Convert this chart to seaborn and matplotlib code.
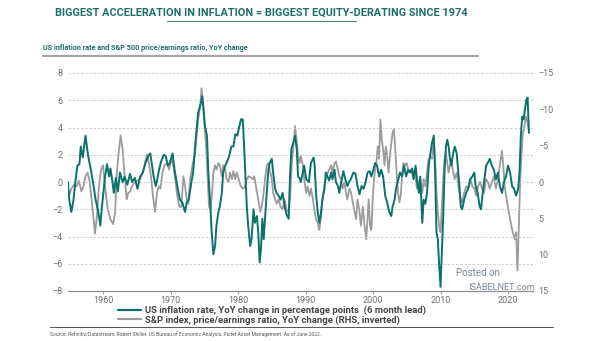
import matplotlib
matplotlib.use("Agg")
import matplotlib.pyplot as plt
import seaborn as sns
import pandas as pd
from matplotlib.lines import Line2D

# ---------------- data ----------------
infl_year = [1954.8, 1955.0, 1955.3, 1955.6, 1955.9, 1956.2, 1956.5, 1956.7, 1957.0, 1957.4, 1957.8, 1958.2,
             1958.6, 1958.9, 1959.3, 1959.6, 1959.8, 1960.05, 1960.3, 1960.6, 1960.9, 1961.1, 1961.4, 1961.6,
             1961.9, 1962.2, 1962.5, 1962.9, 1963.2, 1963.6, 1964.0, 1964.3, 1964.7, 1965.1, 1965.5, 1965.9,
             1966.3, 1966.7, 1967.0, 1967.2, 1967.5, 1967.8, 1968.0, 1968.3, 1968.6, 1969.0, 1969.3, 1969.6,
             1969.9, 1970.3, 1970.6, 1971.0, 1971.4, 1971.75, 1972.15, 1972.4, 1972.7, 1973.1, 1973.35, 1973.6,
             1973.9, 1974.1, 1974.5, 1974.7, 1974.9, 1975.1, 1975.4, 1975.6, 1975.9, 1976.1, 1976.35, 1976.6,
             1976.8, 1977.1, 1977.3, 1977.6, 1977.8, 1978.1, 1978.3, 1978.7, 1979.0, 1979.3, 1979.6, 1979.9,
             1980.2, 1980.45, 1980.7, 1980.9, 1981.1, 1981.3, 1981.5, 1981.8, 1982.0, 1982.3, 1982.5, 1982.8,
             1983.0, 1983.2, 1983.4, 1983.6, 1983.8, 1984.0, 1984.25, 1984.5, 1984.7, 1985.0, 1985.2, 1985.5,
             1985.7, 1986.0, 1986.3, 1986.6, 1986.9, 1987.2, 1987.5, 1987.7, 1987.9, 1988.2, 1988.45, 1988.7,
             1988.9, 1989.1, 1989.3, 1989.6, 1989.8, 1990.1, 1990.5, 1990.8, 1991.2, 1991.35, 1991.55, 1991.8,
             1992.05, 1992.3, 1992.5, 1992.8, 1993.0, 1993.25, 1993.5, 1993.8, 1994.0, 1994.3, 1994.5, 1994.8,
             1995.0, 1995.3, 1995.6, 1995.9, 1996.2, 1996.45, 1996.7, 1997.1, 1997.4, 1997.7, 1998.0, 1998.3,
             1998.6, 1998.9, 1999.2, 1999.5, 1999.75, 2000.05, 2000.3, 2000.6, 2000.9, 2001.2, 2001.5, 2001.8,
             2002.1, 2002.4, 2002.7, 2002.9, 2003.2, 2003.4, 2003.7, 2004.0, 2004.3, 2004.6, 2004.9, 2005.2,
             2005.5, 2005.8, 2006.0, 2006.3, 2006.55, 2006.8, 2007.0, 2007.3, 2007.5, 2007.75, 2008.0, 2008.25,
             2008.5, 2008.75, 2009.0, 2009.2, 2009.4, 2009.6, 2009.8, 2010.0, 2010.2, 2010.4, 2010.6, 2010.8,
             2011.0, 2011.2, 2011.4, 2011.6, 2011.8, 2012.1, 2012.4, 2012.6, 2012.8, 2013.0, 2013.2, 2013.5,
             2013.8, 2014.1, 2014.4, 2014.7, 2015.0, 2015.2, 2015.5, 2015.8, 2016.0, 2016.25, 2016.55, 2016.75,
             2017.0, 2017.3, 2017.6, 2017.9, 2018.2, 2018.5, 2018.8, 2019.1, 2019.4, 2019.7, 2020.0, 2020.3,
             2020.6, 2020.9, 2021.2, 2021.5, 2021.7, 2021.9, 2022.1, 2022.3, 2022.5, 2022.7, 2022.9, 2023.1]
infl_val = [0.0, -1.3, -2.2, -1.4, 0.0, 1.2, 1.3, 2.6, 1.8, 3.4, 1.9, 0.9,
            -0.3, -1.3, -2.2, -3.2, -2.0, -0.8, 0.4, 1.3, 0.4, 1.0, 0.0, -0.8,
            0.3, -0.7, 0.7, 0.0, 0.4, -0.2, 0.6, 0.0, 0.3, -0.5, 0.4, 0.7,
            1.4, 1.9, 2.1, 1.4, 0.4, -0.3, 0.1, 0.9, 1.5, 2.0, 1.9, 1.2,
            1.4, 2.1, 0.9, -0.3, -1.3, -1.5, -2.2, -1.5, -1.3, 0.0, 0.7, 2.4,
            4.1, 5.1, 5.8, 6.3, 5.3, 4.1, 3.4, 0.7, -1.8, -3.7, -5.3, -4.7,
            -3.2, -2.2, -1.8, -0.8, 0.7, 1.2, 1.4, 1.9, 2.6, 2.6, 3.5, 3.4,
            4.1, 4.6, 4.6, 2.6, 0.4, -1.8, -3.2, -4.7, -4.2, -2.0, -3.0, -2.5,
            -3.7, -5.9, -4.9, -2.7, -4.2, -2.7, -0.8, 0.9, 1.4, 1.7, 0.7, -0.5,
            -0.8, -1.0, -1.3, -0.8, -1.8, -2.4, -2.7, 0.4, 2.4, 2.9, 3.4, 2.4,
            0.4, 0.3, 0.0, 0.7, 1.2, 0.2, 0.0, 1.4, 1.8, 1.2, -0.8, -2.2,
            -3.0, -2.2, -1.3, -0.5, 0.7, 0.4, 0.1, 0.7, 0.2, 0.9, 0.0, -0.3,
            -0.8, 0.0, 0.8, 0.2, -0.3, 0.0, 0.2, 0.7, 0.6, -0.3, -0.9, -0.3,
            -0.5, 0.0, 0.7, 0.8, 0.4, 0.9, 1.4, 1.2, 0.4, 0.9, 0.4, -1.0,
            -1.5, -2.2, -2.5, -1.8, -1.3, -0.5, 0.1, 0.7, 0.4, 1.2, 0.4, 0.9,
            0.7, 1.0, 0.2, 1.2, 0.0, -0.8, 0.4, -3.0, -1.3, -1.6, -0.8, 1.2,
            2.1, 2.9, 3.4, 0.7, -3.7, -4.2, -6.1, -7.7, -5.2, -2.5, 0.9, 2.6,
            3.1, 2.6, 1.7, 1.2, 1.9, 2.6, 2.1, 0.9, -0.3, -1.8, -2.0, -1.3,
            -0.8, -0.5, 0.2, 0.4, 0.7, -0.3, -0.8, -1.8, -2.0, -0.8, 0.4, 1.2,
            1.4, 1.7, 1.2, 0.9, 0.2, 0.7, -0.3, -0.8, 0.0, 0.4, 1.2, 0.7,
            -0.3, -0.5, -1.0, -0.5, 0.7, 3.4, 4.8, 4.6, 5.3, 6.0, 6.2, 3.6]

pe_year = [1954.8, 1955.05, 1955.3, 1955.7, 1956.1, 1956.4, 1956.8, 1957.1, 1957.4, 1957.7, 1958.0, 1958.3,
           1958.6, 1958.8, 1959.1, 1959.4, 1959.7, 1960.0, 1960.15, 1960.4, 1960.7, 1961.1, 1961.5, 1961.8,
           1962.0, 1962.3, 1962.6, 1962.9, 1963.2, 1963.5, 1963.75, 1964.0, 1964.3, 1964.7, 1965.1, 1965.5,
           1965.9, 1966.2, 1966.5, 1966.8, 1967.1, 1967.4, 1967.7, 1968.0, 1968.25, 1968.5, 1968.8, 1969.1,
           1969.5, 1969.8, 1970.1, 1970.4, 1970.7, 1971.0, 1971.3, 1971.6, 1971.9, 1972.15, 1972.4, 1972.65,
           1972.9, 1973.3, 1973.6, 1973.9, 1974.1, 1974.4, 1974.6, 1974.8, 1975.0, 1975.3, 1975.5, 1975.7,
           1975.95, 1976.15, 1976.35, 1976.6, 1976.8, 1977.1, 1977.3, 1977.6, 1977.8, 1978.1, 1978.3, 1978.6,
           1978.8, 1979.1, 1979.3, 1979.6, 1979.8, 1980.1, 1980.4, 1980.7, 1981.0, 1981.3, 1981.6, 1981.9,
           1982.2, 1982.4, 1982.7, 1983.0, 1983.3, 1983.5, 1983.8, 1984.0, 1984.25, 1984.5, 1984.7, 1985.0,
           1985.2, 1985.5, 1985.7, 1986.0, 1986.3, 1986.6, 1986.9, 1987.2, 1987.5, 1987.7, 1987.95, 1988.2,
           1988.45, 1988.7, 1988.9, 1989.1, 1989.3, 1989.6, 1989.8, 1990.1, 1990.3, 1990.6, 1990.8, 1991.1,
           1991.3, 1991.55, 1991.8, 1992.05, 1992.3, 1992.5, 1992.8, 1993.0, 1993.3, 1993.5, 1993.8, 1994.0,
           1994.3, 1994.5, 1994.8, 1995.0, 1995.25, 1995.5, 1995.75, 1996.0, 1996.2, 1996.5, 1996.75, 1997.0,
           1997.2, 1997.5, 1997.7, 1998.0, 1998.2, 1998.5, 1998.7, 1999.0, 1999.2, 1999.35, 1999.55, 1999.75,
           1999.95, 2000.15, 2000.3, 2000.5, 2000.7, 2000.9, 2001.1, 2001.3, 2001.5, 2001.7, 2001.9, 2002.1,
           2002.3, 2002.6, 2002.9, 2003.1, 2003.3, 2003.5, 2003.7, 2003.9, 2004.1, 2004.3, 2004.5, 2004.7,
           2005.0, 2005.3, 2005.6, 2005.9, 2006.2, 2006.5, 2006.75, 2007.0, 2007.3, 2007.5, 2007.75, 2008.0,
           2008.25, 2008.5, 2008.75, 2009.0, 2009.2, 2009.4, 2009.6, 2009.8, 2010.0, 2010.2, 2010.4, 2010.6,
           2010.8, 2011.0, 2011.2, 2011.4, 2011.6, 2011.8, 2012.1, 2012.4, 2012.7, 2013.0, 2013.2, 2013.5,
           2013.8, 2014.1, 2014.4, 2014.7, 2015.0, 2015.3, 2015.55, 2015.85, 2016.15, 2016.45, 2016.75, 2017.0,
           2017.3, 2017.6, 2017.9, 2018.2, 2018.5, 2018.8, 2019.1, 2019.3, 2019.5, 2019.8, 2020.1, 2020.4,
           2020.7, 2021.0, 2021.2, 2021.4, 2021.6, 2021.8, 2022.0, 2022.2, 2022.4, 2022.6, 2022.8, 2023.0]
# P/E YoY change, right-hand axis units (axis inverted)
pe_val = [0.9, 1.7, 0.9, 0.4, 0.6, -0.2, 1.3, 0.6, -0.8, -1.3, -0.2, 2.4,
          5.1, 7.1, 4.7, 0.6, -1.7, -2.3, -0.8, 1.5, 3.8, 5.1, 5.8, 4.1,
          -0.8, -3.9, -6.4, -4.5, -0.8, 2.4, 1.5, 1.3, 0.6, 0.0, -0.2, -0.4,
          -1.3, -2.6, -3.8, -2.6, -0.8, 1.9, 4.1, 1.5, 0.6, 0.9, -1.3, -2.3,
          -2.6, -1.7, -3.2, -2.3, -0.4, 1.9, 3.4, 3.4, -0.8, 0.6, 2.4, 3.0,
          -0.4, -2.6, -3.6, -6.8, -8.6, -10.5, -12.9, -10.9, -8.1, -4.5, -0.8, 3.4,
          3.8, 1.5, -1.3, -2.3, -1.7, -2.6, -2.3, -0.8, -2.3, -1.7, -0.4, 0.0,
          -1.3, -0.4, -1.5, -0.4, -1.3, -0.4, 0.6, 0.9, 0.8, -0.4, -0.8, -0.6,
          -0.4, -0.8, 0.9, 2.4, 4.1, 3.4, 1.5, -0.4, -2.3, -2.6, -1.7, -0.4,
          1.5, 2.4, 3.0, 2.4, 3.4, 3.8, 2.4, 3.8, 4.1, 2.4, -2.3, -4.9,
          -7.7, -5.4, -3.6, -2.6, -3.6, -2.3, -0.4, 1.5, 0.6, 1.9, 0.9, 2.4,
          3.8, 5.1, 5.6, 6.6, 4.7, 2.4, 0.6, -0.4, -1.3, -1.7, -2.3, -1.3,
          -2.6, -2.8, -1.7, -0.8, -0.4, 0.9, 0.0, 1.5, 2.4, 0.9, 1.5, 2.8,
          3.8, 5.1, 2.4, 4.1, 6.0, 3.4, 5.6, 7.9, 4.7, 2.4, 6.0, 6.6,
          2.4, -0.4, -1.7, -2.6, -4.9, -3.2, -8.6, -5.8, -4.5, -2.3, -4.9, -3.6,
          -1.3, -4.5, -6.8, -7.3, -4.5, -1.3, 1.5, 2.8, 1.9, -0.8, -2.6, -2.3,
          -2.6, -1.3, -1.7, -0.8, -1.3, 0.9, 0.0, -0.4, 1.5, -0.4, 0.6, -1.3,
          -3.2, -3.6, -3.2, -5.8, -3.2, 1.5, 4.1, 6.0, 6.9, 3.4, -0.4, -3.2,
          -3.9, -2.6, -1.3, -2.3, -3.2, -1.7, -0.4, -1.3, 0.9, 2.4, 2.8, 1.5,
          0.6, 0.9, -0.4, 0.6, 0.9, 1.9, 0.6, 0.0, 0.9, 1.5, -0.4, 0.0,
          0.9, 0.0, -0.8, 0.9, -0.4, -2.3, -4.3, -2.3, 0.6, 2.4, 4.1, 5.6,
          6.9, 7.9, 6.9, 12.2, 6.0, 0.0, -3.9, -6.8, -7.3, -9.0, -8.6, -7.5]

left_ticks = [-8, -6, -4, -2, 0, 2, 4, 6, 8]
right_ticks = [-15, -10, -5, 0, 5, 10, 15]
year_ticks = [1960, 1970, 1980, 1990, 2000, 2010, 2020]

title = "BIGGEST ACCELERATION IN INFLATION = BIGGEST EQUITY-DERATING SINCE 1974"
subtitle = "US inflation rate and S&P 500 price/earnings ratio, YoY change"
label_infl = "US inflation rate, YoY change in percentage points  (6 month lead)"
label_pe = "S&P index, price/earnings ratio, YoY change (RHS, inverted)"
source = ("Source: Refinitiv/Datastream, Robert Shiller, US Bureau of Economic Analysis, "
          "Pictet Asset Management. As of June 2022.")

TEAL = "#0b716c"
GRAY = "#9b9b9b"
TITLE_C = "#1d6e69"

sns.set_theme(style="white")
plt.rcParams["font.family"] = ["Roboto", "DejaVu Sans"]

df_i = pd.DataFrame({"year": infl_year, "val": infl_val})
df_p = pd.DataFrame({"year": pe_year, "val": pe_val})

fig = plt.figure(figsize=(6.05, 3.41), dpi=100)
ax = fig.add_axes([68 / 605, (341 - 291) / 341, (533 - 68) / 605, (291 - 73) / 341])
ax2 = ax.twinx()

sns.lineplot(data=df_p, x="year", y="val", ax=ax2, color=GRAY, linewidth=1.3, estimator=None, sort=False)
sns.lineplot(data=df_i, x="year", y="val", ax=ax, color=TEAL, linewidth=1.4, estimator=None, sort=False)

# draw teal above gray
ax.set_zorder(2)
ax.patch.set_visible(False)

ax.set_xlim(1954.81, 2023.7)
ax.set_ylim(-8, 8)
ax2.set_ylim(15, -15)

ax.set_yticks(left_ticks)
ax2.set_yticks(right_ticks)
ax.set_xticks(year_ticks)
ax.set_xlabel("")
ax.set_ylabel("")
ax2.set_ylabel("")

for a in (ax, ax2):
    for s in ("top", "left", "right"):
        a.spines[s].set_visible(False)
ax2.spines["bottom"].set_visible(False)
ax.spines["bottom"].set_color("#8c8c8c")
ax.spines["bottom"].set_linewidth(0.9)

ax.yaxis.grid(True, linestyle=(0, (3, 2)), color="#c9c9c9", linewidth=0.6)
ax.set_axisbelow(True)
ax.tick_params(axis="y", length=0, labelsize=6.5, labelcolor="#6e6e6e", pad=4)
ax.tick_params(axis="x", length=2, width=0.6, color="#8c8c8c", labelsize=6.5,
               labelcolor="#6e6e6e", pad=1.5, bottom=True, direction="out")
ax2.tick_params(axis="y", length=0, labelsize=6.5, labelcolor="#6e6e6e", pad=4)

# titles
fig.text(261 / 605, 1 - 13 / 341, title, ha="center", va="center", fontsize=7.8, fontweight="bold",
         color=TITLE_C)
fig.add_artist(Line2D([167 / 605, 356 / 605], [1 - 21 / 341] * 2, color="#4d7f7b", linewidth=0.8))
fig.text(43 / 605, 1 - 48 / 341, subtitle, ha="left", va="center", fontsize=5.2,
         fontweight="bold", color=TITLE_C)
fig.add_artist(Line2D([43 / 605, 478 / 605], [1 - 56 / 341] * 2, color="#a5a5a5", linewidth=1.6))

# legend
handles = [Line2D([], [], color=TEAL, linewidth=1.6), Line2D([], [], color=GRAY, linewidth=1.6)]
leg = fig.legend(handles, [label_infl, label_pe], loc="upper left",
                 bbox_to_anchor=(114 / 605, 1 - 302 / 341), frameon=False, handlelength=2.5,
                 handletextpad=0.4, labelspacing=0.0, borderaxespad=0,
                 prop={"size": 6.8, "weight": "bold"})
for t in leg.get_texts():
    t.set_color("#444444")

# bottom line and source
fig.add_artist(Line2D([50 / 605, 553 / 605], [1 - 327 / 341] * 2, color="#555555", linewidth=0.7))
fig.text(50 / 605, 1 - 334 / 341, source, ha="left", va="center", fontsize=3.6, color="#555555")

# watermark
fig.text(456 / 605, 1 - 273 / 341, "Posted on", ha="left", va="center", fontsize=7,
         color="#7d8a99")
fig.text(468 / 605, 1 - 288 / 341, "ISABELNET.com", ha="left", va="center", fontsize=6.6,
         color="#7d8a99")

fig.savefig("out.png", dpi=100)
